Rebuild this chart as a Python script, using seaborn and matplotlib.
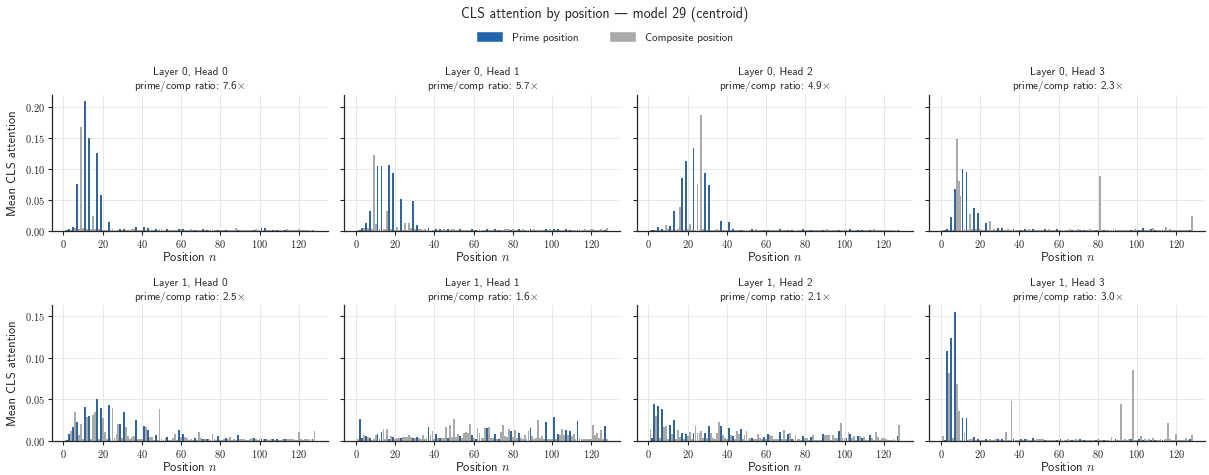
import matplotlib
matplotlib.use("Agg")
import matplotlib.pyplot as plt
from matplotlib.patches import Patch
from matplotlib.ticker import FuncFormatter, MultipleLocator
import pandas as pd
import seaborn as sns

# ---- data -------------------------------------------------------------
PRIMES = [2, 3, 5, 7, 11, 13, 17, 19, 23, 29, 31, 37, 41, 43, 47, 53, 59, 61,
          67, 71, 73, 79, 83, 89, 97, 101, 103, 107, 109, 113, 127]

LAYERS = [0, 0, 0, 0, 1, 1, 1, 1]
HEADS = [0, 1, 2, 3, 0, 1, 2, 3]
RATIOS = [7.6, 5.7, 4.9, 2.3, 2.5, 1.6, 2.1, 3.0]

# mean CLS attention at positions 1..128, one list per head
L0H0 = [0.0005, 0.001, 0.002, 0.001, 0.0065, 0.004, 0.075, 0.002, 0.168, 0.005, 0.209, 0.002, 0.150, 0.002, 0.023, 0.003,
        0.126, 0.002, 0.057, 0.001, 0.001, 0.001, 0.0145, 0.001, 0.002, 0.0005, 0.001, 0.0005, 0.002, 0.0005, 0.003, 0.0005,
        0.001, 0.0005, 0.002, 0.002, 0.0065, 0.001, 0.0005, 0.001, 0.0065, 0.001, 0.004, 0.0005, 0.001, 0.0005, 0.002, 0.0005,
        0.002, 0.002, 0.0005, 0.001, 0.002, 0.0005, 0.0015, 0.0005, 0.001, 0.0005, 0.002, 0.003, 0.002, 0.0005, 0.001, 0.0005,
        0.002, 0.0005, 0.001, 0.0005, 0.0005, 0.001, 0.002, 0.0005, 0.001, 0.0005, 0.0005, 0.002, 0.0005, 0.0005, 0.001, 0.0005,
        0.0005, 0.001, 0.001, 0.0005, 0.0005, 0.0005, 0.0005, 0.004, 0.001, 0.0005, 0.0005, 0.0005, 0.0005, 0.0005, 0.0005, 0.0005,
        0.001, 0.002, 0.0005, 0.0005, 0.005, 0.0005, 0.005, 0.0005, 0.0005, 0.0005, 0.001, 0.0005, 0.001, 0.0005, 0.0005, 0.0005,
        0.001, 0.002, 0.0005, 0.0005, 0.0005, 0.0005, 0.0005, 0.002, 0.0005, 0.0005, 0.0005, 0.0005, 0.0005, 0.0005, 0.001, 0.0005]

L0H1 = [0.0005, 0.001, 0.005, 0.005, 0.013, 0.004, 0.032, 0.002, 0.123, 0.011, 0.104, 0.003, 0.104, 0.002, 0.003, 0.032,
        0.1065, 0.002, 0.093, 0.001, 0.006, 0.001, 0.051, 0.001, 0.013, 0.001, 0.013, 0.004, 0.048, 0.003, 0.0097, 0.002,
        0.002, 0.001, 0.002, 0.001, 0.004, 0.0005, 0.001, 0.0005, 0.003, 0.001, 0.003, 0.001, 0.002, 0.001, 0.002, 0.0005,
        0.002, 0.002, 0.0005, 0.001, 0.002, 0.0005, 0.001, 0.0005, 0.0005, 0.0005, 0.002, 0.0005, 0.001, 0.0005, 0.003, 0.0005,
        0.0005, 0.0005, 0.002, 0.001, 0.0005, 0.001, 0.002, 0.0005, 0.001, 0.0005, 0.0005, 0.002, 0.002, 0.002, 0.001, 0.002,
        0.0005, 0.0005, 0.002, 0.0005, 0.002, 0.0005, 0.0005, 0.0005, 0.002, 0.0005, 0.002, 0.0005, 0.0005, 0.0005, 0.0005, 0.0005,
        0.002, 0.0005, 0.003, 0.0005, 0.003, 0.0005, 0.002, 0.0005, 0.0005, 0.0005, 0.003, 0.0005, 0.001, 0.0005, 0.0005, 0.0005,
        0.001, 0.003, 0.0005, 0.0005, 0.002, 0.0005, 0.0005, 0.002, 0.002, 0.0005, 0.0005, 0.0005, 0.002, 0.0005, 0.001, 0.004]

L0H2 = [0.0005, 0.001, 0.001, 0.001, 0.0065, 0.0005, 0.002, 0.001, 0.0097, 0.003, 0.008, 0.001, 0.032, 0.001, 0.003, 0.0387,
        0.0855, 0.001, 0.113, 0.003, 0.011, 0.001, 0.134, 0.001, 0.076, 0.001, 0.187, 0.002, 0.0935, 0.001, 0.074, 0.0005,
        0.0005, 0.0005, 0.002, 0.0005, 0.016, 0.0005, 0.0005, 0.0005, 0.0135, 0.0005, 0.002, 0.0005, 0.0005, 0.0005, 0.001, 0.0005,
        0.0005, 0.0005, 0.0005, 0.001, 0.002, 0.0005, 0.002, 0.0005, 0.0005, 0.0005, 0.001, 0.0005, 0.001, 0.0005, 0.0005, 0.0005,
        0.0005, 0.0005, 0.002, 0.0005, 0.0005, 0.0005, 0.001, 0.0005, 0.001, 0.0005, 0.0005, 0.0005, 0.0005, 0.0005, 0.002, 0.0005,
        0.0005, 0.0005, 0.001, 0.0005, 0.0005, 0.0005, 0.0005, 0.0005, 0.001, 0.0005, 0.002, 0.0005, 0.0005, 0.0005, 0.0005, 0.0005,
        0.001, 0.0005, 0.0005, 0.002, 0.001, 0.0005, 0.002, 0.0005, 0.0005, 0.0005, 0.001, 0.0005, 0.001, 0.0005, 0.0005, 0.0005,
        0.001, 0.0005, 0.002, 0.0005, 0.0005, 0.0005, 0.0005, 0.0005, 0.0005, 0.0005, 0.0005, 0.0005, 0.0005, 0.0005, 0.001, 0.0005]

L0H3 = [0.001, 0.001, 0.002, 0.001, 0.0226, 0.001, 0.068, 0.148, 0.081, 0.056, 0.100, 0.002, 0.095, 0.001, 0.027, 0.002,
        0.037, 0.003, 0.029, 0.003, 0.001, 0.001, 0.013, 0.001, 0.016, 0.001, 0.002, 0.0005, 0.005, 0.0005, 0.0035, 0.0005,
        0.0005, 0.002, 0.0005, 0.0005, 0.002, 0.0005, 0.001, 0.0005, 0.001, 0.0005, 0.002, 0.0005, 0.002, 0.0005, 0.002, 0.0005,
        0.0005, 0.0005, 0.0005, 0.0005, 0.002, 0.0005, 0.002, 0.0005, 0.0005, 0.0005, 0.002, 0.0005, 0.001, 0.0005, 0.0005, 0.0005,
        0.0005, 0.002, 0.001, 0.0005, 0.0005, 0.002, 0.001, 0.0005, 0.001, 0.0005, 0.0005, 0.002, 0.0005, 0.0005, 0.001, 0.0005,
        0.0887, 0.0005, 0.001, 0.0005, 0.0005, 0.0005, 0.0005, 0.003, 0.001, 0.0005, 0.0005, 0.0005, 0.0005, 0.0005, 0.0005, 0.0005,
        0.001, 0.0005, 0.002, 0.0005, 0.001, 0.0005, 0.004, 0.0005, 0.0005, 0.0005, 0.002, 0.004, 0.001, 0.0005, 0.0005, 0.0005,
        0.001, 0.0005, 0.006, 0.0005, 0.002, 0.0005, 0.0005, 0.0005, 0.0005, 0.0005, 0.0005, 0.0005, 0.0005, 0.0005, 0.001, 0.024]

L1H0 = [0.0005, 0.001, 0.0084, 0.012, 0.017, 0.035, 0.023, 0.0072, 0.0205, 0.002, 0.041, 0.029, 0.030, 0.002, 0.031, 0.035,
        0.0506, 0.0024, 0.040, 0.028, 0.011, 0.002, 0.043, 0.0036, 0.040, 0.0036, 0.0084, 0.0205, 0.0205, 0.0036, 0.035, 0.017,
        0.006, 0.002, 0.005, 0.006, 0.025, 0.002, 0.002, 0.002, 0.018, 0.017, 0.013, 0.004, 0.005, 0.001, 0.007, 0.001,
        0.0386, 0.002, 0.001, 0.003, 0.004, 0.001, 0.001, 0.003, 0.008, 0.001, 0.013, 0.004, 0.0084, 0.004, 0.003, 0.001,
        0.002, 0.001, 0.0036, 0.001, 0.011, 0.0036, 0.0024, 0.0016, 0.0016, 0.0016, 0.001, 0.0084, 0.0016, 0.001, 0.006, 0.001,
        0.001, 0.002, 0.0036, 0.002, 0.005, 0.001, 0.0016, 0.001, 0.0072, 0.0016, 0.0016, 0.0016, 0.001, 0.001, 0.0016, 0.0036,
        0.0036, 0.002, 0.001, 0.0036, 0.002, 0.0016, 0.0024, 0.0016, 0.001, 0.002, 0.0016, 0.001, 0.0016, 0.001, 0.001, 0.002,
        0.0016, 0.0016, 0.0016, 0.0016, 0.0024, 0.001, 0.001, 0.011, 0.0024, 0.001, 0.0016, 0.0016, 0.0016, 0.0024, 0.0024, 0.012]

L1H1 = [0.002, 0.0265, 0.0036, 0.0072, 0.006, 0.005, 0.0036, 0.001, 0.0024, 0.0072, 0.0084, 0.0024, 0.011, 0.0145, 0.002, 0.0145,
        0.0024, 0.006, 0.005, 0.0016, 0.003, 0.003, 0.0036, 0.005, 0.005, 0.005, 0.0072, 0.005, 0.0036, 0.0036, 0.005, 0.0036,
        0.002, 0.0072, 0.002, 0.0036, 0.017, 0.0072, 0.012, 0.002, 0.0084, 0.0036, 0.0036, 0.0036, 0.0036, 0.017, 0.0036, 0.019,
        0.005, 0.0265, 0.005, 0.0084, 0.006, 0.0036, 0.0096, 0.011, 0.0096, 0.0205, 0.0072, 0.0036, 0.0024, 0.0157, 0.0096, 0.003,
        0.003, 0.0157, 0.0157, 0.017, 0.0036, 0.0036, 0.0084, 0.002, 0.0024, 0.011, 0.019, 0.006, 0.005, 0.0145, 0.012, 0.005,
        0.013, 0.0036, 0.0096, 0.0036, 0.0024, 0.0072, 0.0024, 0.012, 0.0157, 0.006, 0.0024, 0.0036, 0.025, 0.0036, 0.006, 0.002,
        0.023, 0.0024, 0.0024, 0.0024, 0.029, 0.0024, 0.0084, 0.0072, 0.0145, 0.0072, 0.013, 0.0072, 0.012, 0.006, 0.0084, 0.002,
        0.024, 0.0036, 0.0024, 0.0016, 0.002, 0.002, 0.0024, 0.0024, 0.019, 0.0072, 0.0096, 0.0036, 0.013, 0.002, 0.018, 0.0016]

L1H2 = [0.0145, 0.0036, 0.0446, 0.030, 0.042, 0.003, 0.0386, 0.017, 0.018, 0.002, 0.019, 0.0084, 0.025, 0.002, 0.013, 0.004,
        0.0096, 0.002, 0.0084, 0.006, 0.011, 0.002, 0.0096, 0.018, 0.0096, 0.0096, 0.012, 0.0036, 0.0096, 0.0036, 0.018, 0.0096,
        0.0036, 0.0024, 0.0096, 0.023, 0.018, 0.0072, 0.0036, 0.002, 0.0157, 0.0072, 0.006, 0.002, 0.012, 0.0084, 0.0145, 0.002,
        0.0072, 0.012, 0.0024, 0.0036, 0.0036, 0.002, 0.0024, 0.0084, 0.0036, 0.002, 0.005, 0.002, 0.0084, 0.0072, 0.006, 0.0024,
        0.002, 0.002, 0.011, 0.002, 0.013, 0.002, 0.0084, 0.0096, 0.0024, 0.0024, 0.0072, 0.0016, 0.0016, 0.001, 0.006, 0.0036,
        0.0036, 0.001, 0.005, 0.0072, 0.001, 0.001, 0.001, 0.001, 0.0084, 0.0072, 0.0072, 0.0072, 0.001, 0.0072, 0.0036, 0.0036,
        0.012, 0.0217, 0.0036, 0.0036, 0.0036, 0.011, 0.0084, 0.0036, 0.006, 0.001, 0.006, 0.006, 0.0036, 0.005, 0.001, 0.001,
        0.0072, 0.0036, 0.001, 0.011, 0.005, 0.001, 0.0036, 0.0036, 0.0016, 0.001, 0.001, 0.001, 0.0024, 0.001, 0.006, 0.019]

L1H3 = [0.006, 0.001, 0.108, 0.081, 0.124, 0.0036, 0.1554, 0.0687, 0.036, 0.001, 0.0277, 0.0096, 0.0277, 0.001, 0.0024, 0.0024,
        0.005, 0.001, 0.0024, 0.0005, 0.0005, 0.0005, 0.0016, 0.0005, 0.0016, 0.0005, 0.0005, 0.0016, 0.0024, 0.0005, 0.0024, 0.0005,
        0.011, 0.0005, 0.0005, 0.048, 0.0024, 0.0005, 0.0005, 0.0005, 0.0016, 0.0005, 0.0024, 0.0016, 0.0005, 0.0005, 0.0036, 0.0005,
        0.0016, 0.0016, 0.0016, 0.0016, 0.001, 0.0005, 0.0005, 0.0005, 0.0005, 0.0005, 0.001, 0.0005, 0.0024, 0.0005, 0.0005, 0.0005,
        0.0016, 0.0005, 0.0005, 0.0005, 0.0016, 0.0005, 0.0016, 0.0005, 0.001, 0.0005, 0.0005, 0.0005, 0.0005, 0.0005, 0.001, 0.0024,
        0.0005, 0.0005, 0.001, 0.0005, 0.0005, 0.0005, 0.005, 0.0005, 0.0016, 0.0005, 0.0005, 0.0446, 0.0005, 0.0016, 0.0005, 0.0024,
        0.0024, 0.0855, 0.0005, 0.0005, 0.0016, 0.006, 0.001, 0.0024, 0.0005, 0.0016, 0.001, 0.0036, 0.001, 0.0005, 0.0005, 0.0016,
        0.001, 0.0005, 0.0016, 0.0217, 0.0016, 0.0005, 0.0005, 0.0084, 0.0005, 0.0005, 0.0005, 0.0005, 0.0036, 0.0005, 0.0016, 0.0072]

HEAD_VALUES = [L0H0, L0H1, L0H2, L0H3, L1H0, L1H1, L1H2, L1H3]

PRIME_LABEL = "Prime position"
COMP_LABEL = "Composite position"
BLUE = "#2166ac"
GRAY = "#aaaaaa"

# ---- style ------------------------------------------------------------
sns.set_style("ticks")
plt.rcParams["font.family"] = ["cmss10", "DejaVu Sans"]
plt.rcParams["mathtext.fontset"] = "cm"
plt.rcParams["axes.unicode_minus"] = False

fig, axes = plt.subplots(2, 4, figsize=(12.09, 4.75), dpi=100, sharey="row")
fig.subplots_adjust(left=0.043, right=0.997, bottom=0.072, top=0.80,
                    wspace=0.06, hspace=0.55)

y_fmt = FuncFormatter(lambda v, _: f"${v:.2f}$")
x_fmt = FuncFormatter(lambda v, _: f"${v:.0f}$")

for i, ax in enumerate(axes.flat):
    vals = HEAD_VALUES[i]
    positions = list(range(1, len(vals) + 1))
    df = pd.DataFrame({
        "position": positions,
        "attention": vals,
        "kind": [PRIME_LABEL if p in PRIMES else COMP_LABEL for p in positions],
    })
    sns.barplot(data=df, x="position", y="attention", hue="kind",
                hue_order=[PRIME_LABEL, COMP_LABEL], palette=[BLUE, GRAY],
                native_scale=True, dodge=False, width=0.95, errorbar=None,
                linewidth=0, legend=False, ax=ax)

    ax.set_axisbelow(True)
    ax.grid(True, color="#e4e4e4", linewidth=0.6)
    ax.xaxis.set_major_locator(MultipleLocator(20))
    ax.yaxis.set_major_locator(MultipleLocator(0.05))
    ax.xaxis.set_major_formatter(x_fmt)
    ax.yaxis.set_major_formatter(y_fmt)
    ax.tick_params(labelsize=7.5, length=3, width=0.8, pad=2)
    for side in ("top", "right"):
        ax.spines[side].set_visible(False)
    for side in ("left", "bottom"):
        ax.spines[side].set_linewidth(0.9)

    ax.set_title(f"Layer {LAYERS[i]}, Head {HEADS[i]}\n"
                 f"prime/comp ratio: {RATIOS[i]:.1f}$\\times$",
                 fontsize=8, pad=4, linespacing=1.2)
    ax.set_xlabel("Position $n$", fontsize=9, labelpad=1)
    ax.set_ylabel("Mean CLS attention" if i % 4 == 0 else "", fontsize=9)

fig.suptitle("CLS attention by position — model 29 (centroid)",
             fontsize=10, y=0.985)
handles = [Patch(facecolor=BLUE, label=PRIME_LABEL),
           Patch(facecolor=GRAY, label=COMP_LABEL)]
fig.legend(handles=handles, loc="center", bbox_to_anchor=(0.5, 0.922),
           ncol=2, frameon=False, fontsize=8, handlelength=2.4,
           handleheight=1.1, columnspacing=2.8)

fig.savefig("out.png", dpi=100)
